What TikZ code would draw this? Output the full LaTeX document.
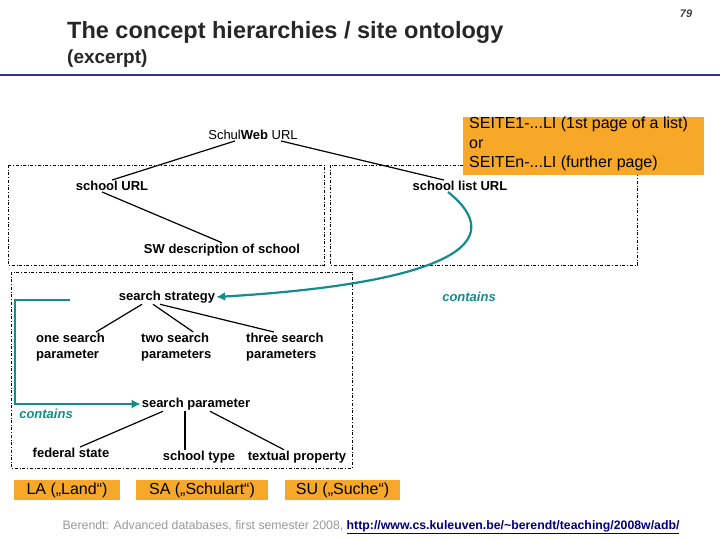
\documentclass[tikz,border=0pt]{standalone}
\usepackage{fontspec}
\setmainfont{Liberation Sans}
\usetikzlibrary{arrows.meta}
\definecolor{org}{RGB}{247,168,40}
\definecolor{tl}{RGB}{20,140,140}
\begin{document}
\begin{tikzpicture}[x=1pt,y=-1pt,
  lbl/.style={font=\fontsize{13}{15}\selectfont\bfseries,inner sep=1pt},
  ln/.style={line width=1.2pt},
  dbox/.style={draw,dash dot,line width=0.6pt},
  orgb/.style={fill=org,inner sep=0pt},
  teal/.style={draw=tl,line width=2.2pt},
  cont/.style={font=\fontsize{13}{15}\selectfont\itshape\bfseries,text=tl}]
\useasboundingbox (0,0) rectangle (720,540);
\node[anchor=west,font=\fontsize{23.5}{26}\selectfont\bfseries,text=black!85,inner sep=0pt] (title) at (67,32) {The concept hierarchies / site ontology};
\node[anchor=west,font=\fontsize{19}{21}\selectfont\bfseries,text=black!85,inner sep=0pt] (sub) at (67,59) {(excerpt)};
\node[font=\fontsize{11}{12}\selectfont\bfseries\itshape,text=black!75] (pg) at (686,14) {79};
\draw[line width=2pt,blue!50!black!80] (0,75) -- (720,75);
\draw[dbox] (8,165) rectangle (324,265);
\draw[dbox] (330,165) rectangle (637,265);
\draw[dbox] (11,272) rectangle (352,468);
\node[orgb,minimum width=241,minimum height=58] (o) at (583.5,146) {};
\node[anchor=north west,align=left,font=\fontsize{16}{19.5}\selectfont,inner sep=0pt] (ot) at (469,117) {SEITE1-...LI (1st page of a list)\\or\\SEITEn-...LI (further page)};
\node[orgb,minimum width=106,minimum height=20,font=\fontsize{16}{17}\selectfont] (la) at (67,490) {LA („Land“)};
\node[orgb,minimum width=132,minimum height=20,font=\fontsize{16}{17}\selectfont] (sa) at (202,490) {SA („Schulart“)};
\node[orgb,minimum width=115,minimum height=20,font=\fontsize{16}{17}\selectfont] (su) at (342.5,490) {SU („Suche“)};
\node[lbl,font=\fontsize{13}{15}\selectfont] (sw) at (253,135) {Schul\textbf{Web} URL};
\node[lbl] (su1) at (112,186) {school URL};
\node[lbl] (sl) at (460,186) {school list URL};
\node[lbl] (sd) at (222,250) {SW description of school};
\node[lbl] (ss) at (167,297) {search strategy};
\node[cont] (c1) at (469,297) {contains};
\node[lbl,anchor=north west,align=left,font=\fontsize{13}{15.5}\selectfont\bfseries] (p1) at (35,332) {one search\\parameter};
\node[lbl,anchor=north west,align=left,font=\fontsize{13}{15.5}\selectfont\bfseries] (p2) at (140,332) {two search\\parameters};
\node[lbl,anchor=north west,align=left,font=\fontsize{13}{15.5}\selectfont\bfseries] (p3) at (245,332) {three search\\parameters};
\node[lbl] (sp) at (196,404) {search parameter};
\node[cont] (c2) at (46,414) {contains};
\node[lbl] (fs) at (71,453) {federal state};
\node[lbl] (st) at (199,457) {school type};
\node[lbl] (tp) at (297,457) {textual property};
\draw[ln] ([xshift=-18]sw.south) -- (su1.north);
\draw[ln] ([xshift=28]sw.south) -- ([xshift=-16]sl.north);
\draw[ln] ([xshift=-10]su1.south) -- (sd.north);
\draw[ln] ([xshift=-25]ss.south) -- ([xshift=-10]p1.north east);
\draw[ln] ([xshift=-14]ss.south) -- ([xshift=17]p2.north);
\draw[ln] ([xshift=-7]ss.south) -- ([xshift=-11]p3.north);
\draw[ln] ([xshift=-33]sp.south) -- ([xshift=9]fs.north);
\draw[ln] ([xshift=-11]sp.south) -- ([xshift=-14]st.north);
\draw[ln] ([xshift=14]sp.south) -- ([xshift=-13]tp.north);
\draw[teal,-{Latex[length=9pt,width=9pt]}] ([xshift=-12]sl.south) .. controls (520,250) and (420,285) .. (ss.east);
\coordinate (ts) at (70,300);
\draw[teal,-{Latex[length=9pt,width=9pt]}] (ts) -- (15,300) -- (15,404) -- (sp.west);
\node[font=\fontsize{12.3}{14}\selectfont,text=black!40] (ft) at (371,527) {Berendt: Advanced databases, first semester 2008, \textcolor{blue!50!black}{\bfseries\underline{http://www.cs.kuleuven.be/\textasciitilde berendt/teaching/2008w/adb/}}};
\end{tikzpicture}
\end{document}
